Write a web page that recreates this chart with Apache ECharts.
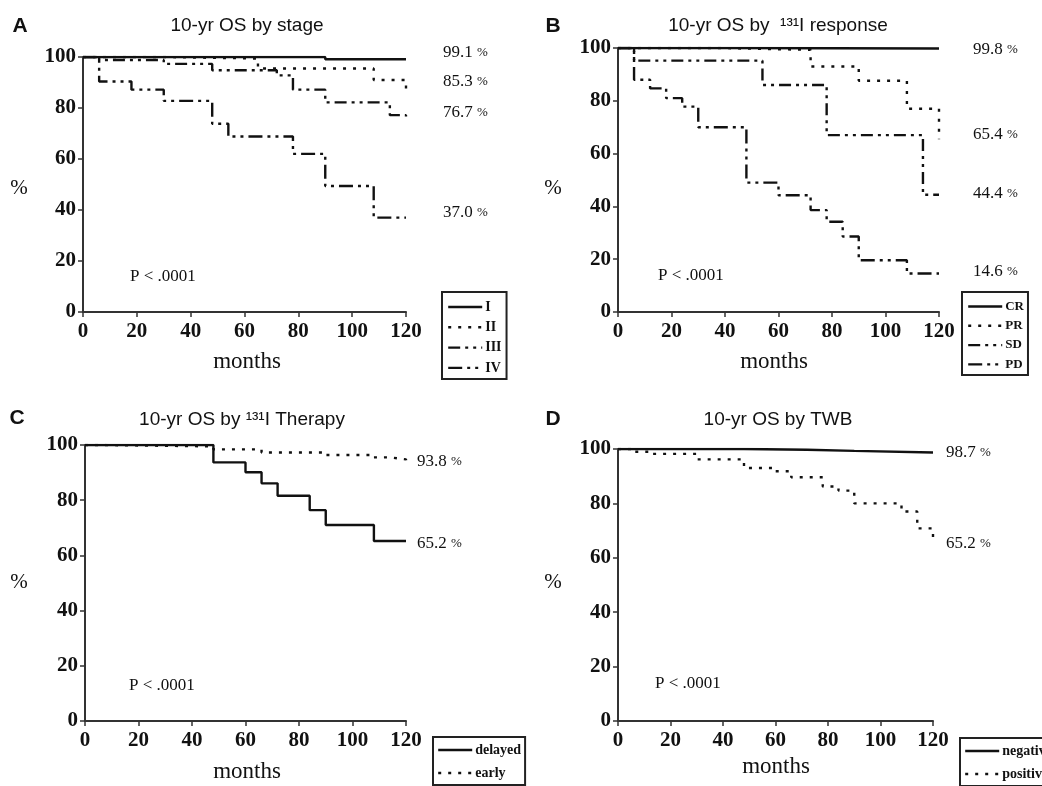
<!DOCTYPE html>
<html>
<head>
<meta charset="utf-8">
<script src="https://cdn.jsdelivr.net/npm/echarts@6/dist/echarts.min.js"></script>
<style>
  html, body { margin: 0; padding: 0; background: #fff; }
  #main { width: 1042px; height: 786px; }
</style>
</head>
<body>
<div id="main"></div>
<script>
// survival curves, [month, % alive] - value holds from that month on
var stageI = [[0, 100], [90, 99.1], [120, 99.1]];
var stageII = [[0, 100], [30, 99.4], [65, 95.5], [108, 91], [120, 85.3]];
var stageIII = [[0, 100], [6, 98.8], [30, 97.3], [48, 94.8], [72, 92.8], [78, 87.2], [90, 82.2], [114, 77.2], [120, 76.7]];
var stageIV = [[0, 100], [6, 90.4], [18, 87.2], [30, 82.8], [48, 73.8], [54, 68.8], [78, 62], [90, 49.4], [108, 37], [120, 37]];

var respCR = [[0, 100], [42, 99.8], [120, 99.8]];
var respPR = [[0, 100], [38, 99.3], [72, 93], [90, 87.6], [108, 77], [120, 65.4]];
var respSD = [[0, 100], [6, 95.2], [54, 86], [78, 67], [114, 44.4], [120, 44.4]];
var respPD = [[0, 100], [6, 88], [12, 84.7], [18, 81], [24, 77.8], [30, 70], [48, 49], [60, 44.2], [72, 38.6], [78, 34.2], [84, 28.6], [90, 19.6], [108, 14.6], [120, 14.6]];

var therDelayed = [[0, 100], [48, 93.7], [60, 90.1], [66, 86.1], [72, 81.6], [84, 76.4], [90, 71], [108, 65.2], [120, 65.2]];
var therEarly = [[0, 100], [6, 99.5], [48, 98.4], [66, 97.3], [90, 96.4], [108, 95.5], [114, 94.8], [120, 93.8]];

var twbNegative = [[0, 100], [48, 99.7], [72, 99.3], [90, 98.7], [120, 98.7]];
var twbPositive = [[0, 100], [6, 99], [12, 98.2], [30, 96.2], [48, 93], [60, 91.8], [66, 89.6], [78, 86.2], [84, 84.7], [90, 80], [108, 77], [114, 70.8], [120, 67.5]];

var endLabels = [
  ["99.1", "85.3", "76.7", "37.0"],
  ["99.8", "65.4", "44.4", "14.6"],
  ["93.8", "65.2"],
  ["98.7", "65.2"]
];
var panelTitles = ["10-yr OS by stage", "10-yr OS by  \u00b9\u00b3\u00b9I response", "10-yr OS by \u00b9\u00b3\u00b9I Therapy", "10-yr OS by TWB"];
var panelLetters = ["A", "B", "C", "D"];
var pText = "P < .0001";

var SERIF = "'Liberation Serif', 'Times New Roman', serif";
var SANS = "'Liberation Sans', Arial, sans-serif";

var chart = echarts.init(document.getElementById("main"));

// line dash styles
var SOLID = "solid";
var DOT = [3, 7];
var DASHDOTDOT = [12, 5, 3, 5, 3, 5];
var DASHDOT = [14, 5, 3, 5, 3, 5];

var grids = [
  { left: 83, top: 57, width: 323, height: 255 },
  { left: 618, top: 48, width: 321, height: 264 },
  { left: 85, top: 445, width: 321, height: 276 },
  { left: 618, top: 449, width: 315, height: 272 }
];

function mkX(i) {
  return {
    gridIndex: i, type: "value", min: 0, max: 120, interval: 20,
    axisLine: { lineStyle: { color: "#333", width: 2 } },
    axisTick: { show: true, inside: false, length: 5, lineStyle: { color: "#333", width: 1.5 } },
    axisLabel: { margin: 9, color: "#111", fontFamily: SERIF, fontWeight: "bold", fontSize: 21 },
    splitLine: { show: false }
  };
}
function mkY(i) {
  return {
    gridIndex: i, type: "value", min: 0, max: 100, interval: 20,
    axisLine: { show: true, lineStyle: { color: "#333", width: 2 } },
    axisTick: { show: true, inside: false, length: 5, lineStyle: { color: "#333", width: 1.5 } },
    axisLabel: { margin: 7, color: "#111", fontFamily: SERIF, fontWeight: "bold", fontSize: 21 },
    splitLine: { show: false }
  };
}

function mkSeries(name, data, idx, dash) {
  return {
    name: name, type: "line", step: "end", data: data,
    xAxisIndex: idx, yAxisIndex: idx,
    symbol: "none", silent: true, animation: false,
    itemStyle: { color: "#111" },
    lineStyle: { color: "#111", width: 2.4, type: dash }
  };
}

function mkLegend(names, left, top, pad, gap, fs) {
  return {
    data: names, orient: "vertical", left: left, top: top,
    itemWidth: 34, itemHeight: 14, itemGap: gap, padding: pad,
    borderColor: "#222", borderWidth: 2, selectedMode: false,
    itemStyle: { opacity: 0, color: "transparent", borderWidth: 0 },
    lineStyle: { width: 2.4 },
    textStyle: { fontFamily: SERIF, fontWeight: "bold", fontSize: fs, color: "#111", padding: [0, 0, 0, -2] }
  };
}

var graphic = [];
function txt(x, y, text, font, align, rich) {
  var s = { text: text, font: font, fill: "#111", align: align || "center", verticalAlign: "middle" };
  if (rich) s.rich = rich;
  graphic.push({ type: "text", x: x, y: y, silent: true, style: s });
}

var letterPos = [[20, 26], [553, 26], [17, 418], [553, 419]];
var titlePos = [[247, 26], [778, 26], [242, 420], [778, 420]];
var pctPos = [[19, 188], [553, 188], [19, 582], [553, 582]];
var monthsPos = [[247, 362], [774, 362], [247, 772], [776, 767]];
var pPos = [[130, 277], [658, 276], [129, 686], [655, 684]];
var endPos = [
  [[443, 53], [443, 82], [443, 113], [443, 213]],
  [[973, 50], [973, 135], [973, 194], [973, 272]],
  [[417, 462], [417, 544]],
  [[946, 453], [946, 544]]
];

var pctRich = {
  v: { fontFamily: SERIF, fontSize: 17, fill: "#111" },
  u: { fontFamily: SERIF, fontSize: 13, fill: "#111" }
};

for (var i = 0; i < 4; i++) {
  txt(letterPos[i][0], letterPos[i][1], panelLetters[i], "bold 21px " + SANS);
  txt(titlePos[i][0], titlePos[i][1], panelTitles[i], "19px " + SANS);
  txt(pctPos[i][0], pctPos[i][1], "%", "21px " + SERIF);
  txt(monthsPos[i][0], monthsPos[i][1], "months", "23px " + SERIF);
  txt(pPos[i][0], pPos[i][1], pText, "17px " + SERIF, "left");
  for (var k = 0; k < endLabels[i].length; k++) {
    txt(endPos[i][k][0], endPos[i][k][1], "{v|" + endLabels[i][k] + "} {u|%}", "17px " + SERIF, "left", pctRich);
  }
}

var option = {
  backgroundColor: "#fff",
  animation: false,
  grid: grids,
  xAxis: [mkX(0), mkX(1), mkX(2), mkX(3)],
  yAxis: [mkY(0), mkY(1), mkY(2), mkY(3)],
  legend: [
    mkLegend(["I", "II", "III", "IV"], 442, 292, [8, 5, 4, 5], 6.3, 14),
    mkLegend(["CR", "PR", "SD", "PD"], 962, 292, [8, 4, 4, 5], 6.3, 13),
    mkLegend(["delayed", "early"], 433, 737, [6, 4, 5, 4], 9, 14),
    mkLegend(["negative", "positive"], 960, 738, [6, 4, 5, 4], 9, 14)
  ],
  series: [
    mkSeries("I", stageI, 0, SOLID),
    mkSeries("II", stageII, 0, DOT),
    mkSeries("III", stageIII, 0, DASHDOTDOT),
    mkSeries("IV", stageIV, 0, DASHDOT),
    mkSeries("CR", respCR, 1, SOLID),
    mkSeries("PR", respPR, 1, DOT),
    mkSeries("SD", respSD, 1, DASHDOTDOT),
    mkSeries("PD", respPD, 1, DASHDOT),
    mkSeries("delayed", therDelayed, 2, SOLID),
    mkSeries("early", therEarly, 2, DOT),
    mkSeries("negative", twbNegative, 3, SOLID),
    mkSeries("positive", twbPositive, 3, DOT)
  ],
  graphic: graphic
};

chart.setOption(option);
</script>
</body>
</html>
